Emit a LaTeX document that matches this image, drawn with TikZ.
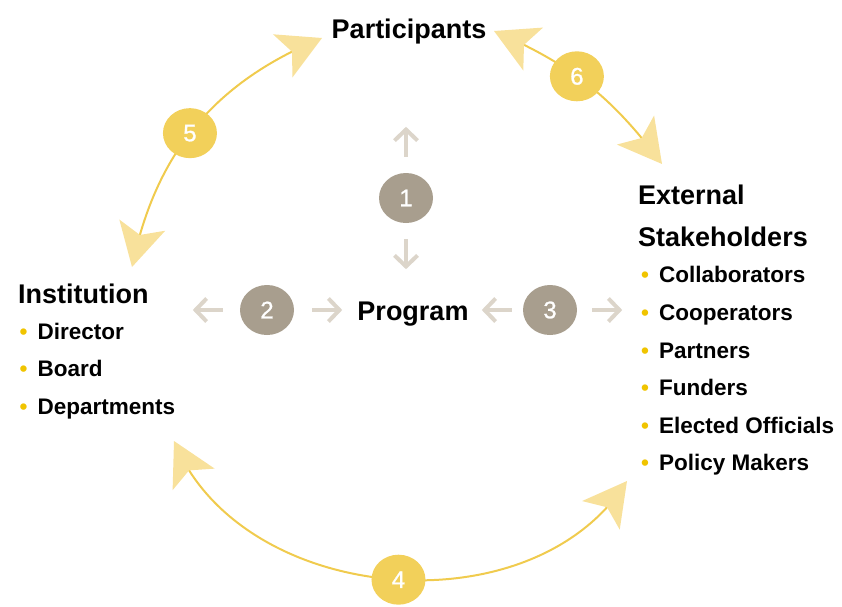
\documentclass[tikz,border=0pt]{standalone}
\usepackage{fontspec}
\setmainfont{Liberation Sans}
\newfontfamily\numfamily{Liberation Sans}[FakeBold=1]
\usetikzlibrary{matrix,arrows.meta,bending,shapes.geometric}

\definecolor{dotgray}{HTML}{A89E8E}
\definecolor{arrowgray}{HTML}{DCD5CA}
\definecolor{dotyellow}{HTML}{F2D05A}
\definecolor{lineyellow}{HTML}{F0CB4E}
\definecolor{tipyellow}{HTML}{F8E19B}
\definecolor{bulletyellow}{HTML}{F0C400}

\newcommand\headfont{\bfseries\fontsize{27}{32}\selectfont}
\newcommand\itemfont{\bfseries\fontsize{22.5}{27}\selectfont}
\newcommand\numfont{\numfamily\fontsize{24}{28}\selectfont}
\newcommand\bul{{\color{bulletyellow}\textbullet}\hspace{10pt}}

\begin{document}
\begin{tikzpicture}[%
    x=1pt, y=1pt,
    itemlist/.style={%
        matrix of nodes,
        inner sep=0pt,
        row sep=0pt,
        nodes={%
            anchor=base west,
            font=\itemfont,
            text height=26pt,
            text depth=11.6pt,
            inner sep=0pt,
        },
    },
    headtext/.style={font=\headfont, anchor=base west, inner sep=0pt},
    numdot/.style={%
        ellipse,
        minimum width=54pt,
        minimum height=50pt,
        inner sep=0pt,
        text=white,
        font=\numfont,
    },
    graydot/.style={numdot, fill=dotgray},
    yellowdot/.style={numdot, fill=dotyellow},
    grayarrow/.style={%
        draw=arrowgray,
        line width=4pt,
        -{Straight Barb[length=11pt,width=23pt]},
    },
    tipstar/.tip={Stealth[length=43pt,width=47pt,inset=10pt,color=tipyellow]},
    cyclearc/.style={%
        draw=lineyellow,
        line width=2pt,
        tipstar-tipstar,
    },
]
\useasboundingbox (0,0) rectangle (842,-606);

% 标题
\node[headtext, anchor=base] (part) at (409,-38) {Participants};
\node[headtext, anchor=base] (prog) at (413,-320) {Program};
\node[headtext] (inst) at (18,-303) {Institution};
\node[headtext] (ext) at (638,-204) {External};
\node[headtext] (stake) at (638,-246) {Stakeholders};

% 列表
\matrix[itemlist, anchor=north west] (instlist) at (19.5,-313) {
    \bul Director \\
    \bul Board \\
    \bul Departments \\
};
\matrix[itemlist, anchor=north west] (extlist) at (641,-256.7) {
    \bul Collaborators \\
    \bul Cooperators \\
    \bul Partners \\
    \bul Funders \\
    \bul Elected Officials \\
    \bul Policy Makers \\
};

% 中心灰色圆点和箭头
\node[graydot] (n1) at (406,-198) {1};
\node[graydot] (n2) at (267,-310) {2};
\node[graydot] (n3) at (550,-310) {3};

\draw[grayarrow] ([yshift=16pt]n1.north) -- ++(0,30);
\draw[grayarrow] ([yshift=-16pt]n1.south) -- ++(0,-30);
\draw[grayarrow] ([xshift=-17pt]n2.west) -- ++(-30,0);
\draw[grayarrow] ([xshift=18pt]n2.east) -- ++(30,0);
\draw[grayarrow] ([xshift=-11pt]n3.west) -- ++(-30,0);
\draw[grayarrow] ([xshift=15pt]n3.east) -- ++(30,0);

% 外圈黄色弧线
\coordinate (a5) at (132,-267);
\coordinate (b5) at (322,-38);
\coordinate (a6) at (494,-31);
\coordinate (b6) at (662,-164);
\coordinate (a4) at (627,-481);
\coordinate (b4) at (174,-441);

\draw[cyclearc] (a5) to[bend left=28] node[pos=.47, yellowdot] (n5) {5} (b5);
\draw[cyclearc] (a6) to[bend left=15] node[pos=.43, yellowdot] (n6) {6} (b6);
\draw[cyclearc] (a4) to[bend left=63] node[pos=.485, yellowdot] (n4) {4} (b4);

\end{tikzpicture}
\end{document}
